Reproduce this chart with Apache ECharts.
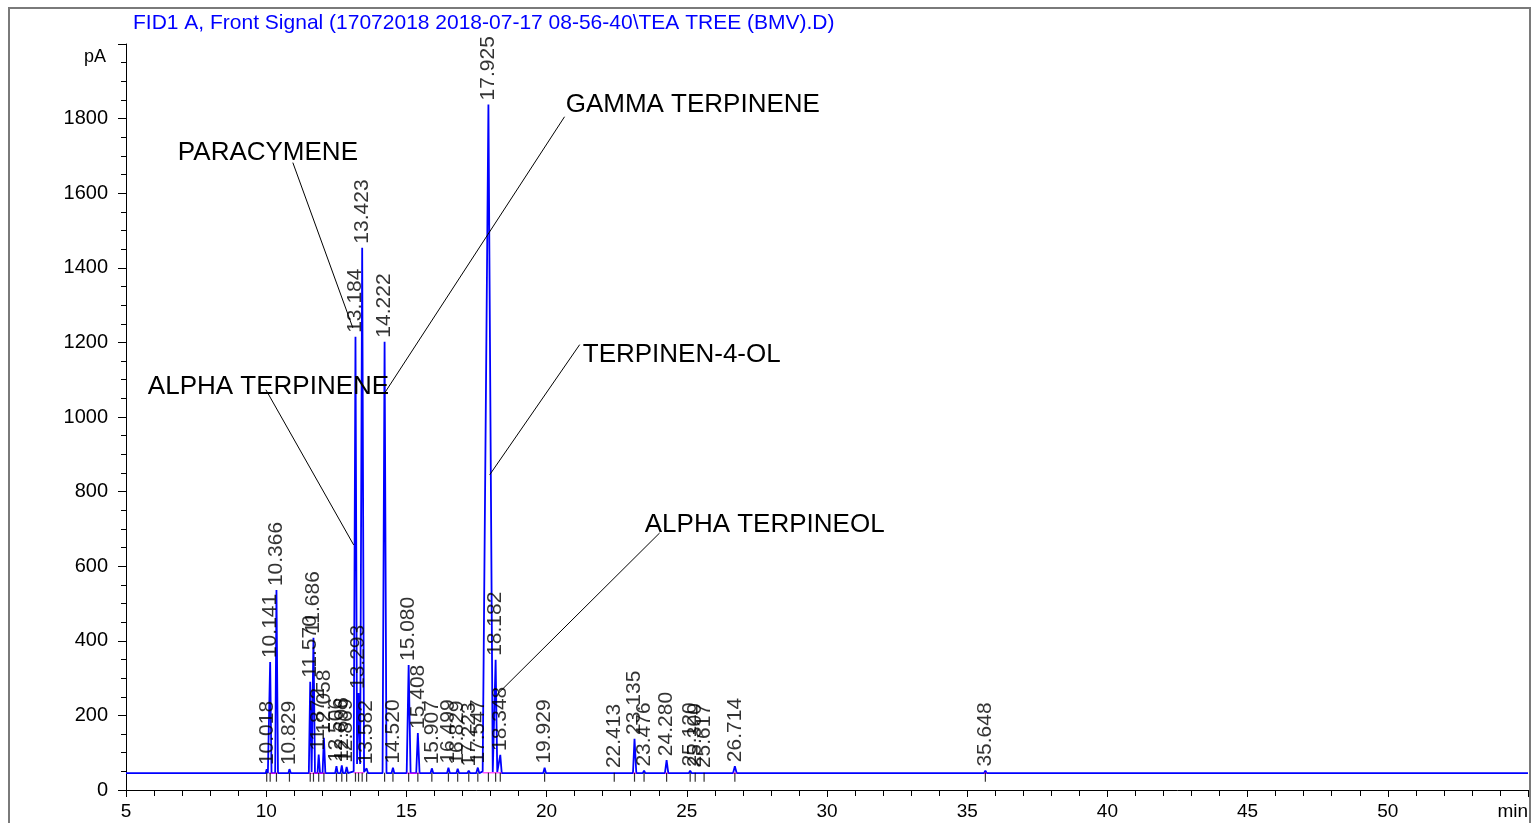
<!DOCTYPE html>
<html>
<head>
<meta charset="utf-8">
<script src="https://cdn.jsdelivr.net/npm/echarts@6/dist/echarts.min.js"></script>
<style>
html,body{margin:0;padding:0;background:#fff;}
#chart{width:1531px;height:823px;}
</style>
</head>
<body>
<div id="chart"></div>
<script>
// ---- DATA ----
const titleText = 'FID1 A, Front Signal (17072018 2018-07-17 08-56-40\\TEA TREE (BMV).D)';
const xTicks = [5, 10, 15, 20, 25, 30, 35, 40, 45, 50, 55];
const yTicks = [0, 200, 400, 600, 800, 1000, 1200, 1400, 1600, 1800, 2000];
const baselinePA = 45;

// chromatogram trace [time (min), signal (pA)]
const trace = [
  [5,45],[9.98,45],[10.018,56],[10.06,45],
  [10.10,45],[10.141,343],[10.19,45],
  [10.32,45],[10.366,536],[10.42,45],
  [10.79,45],[10.829,56],[10.88,45],
  [11.52,45],[11.570,290],[11.62,48],[11.686,408],[11.74,45],
  [11.83,45],[11.872,95],[11.92,45],
  [12.01,45],[12.058,140],[12.11,45],
  [12.46,45],[12.506,64],[12.55,45],
  [12.65,45],[12.696,66],[12.74,45],
  [12.82,45],[12.869,62],[12.92,45],
  [13.12,50],[13.184,1215],[13.24,70],[13.293,260],[13.35,70],[13.423,1454],[13.49,48],
  [13.54,45],[13.582,58],[13.63,45],
  [14.15,45],[14.222,1202],[14.29,45],
  [14.47,45],[14.520,60],[14.57,45],
  [15.01,45],[15.080,335],[15.15,45],
  [15.35,45],[15.408,153],[15.47,45],
  [15.86,45],[15.907,58],[15.96,45],
  [16.45,45],[16.499,60],[16.55,45],
  [16.78,45],[16.829,57],[16.88,45],
  [17.17,45],[17.223,52],[17.27,45],
  [17.49,45],[17.547,60],[17.60,45],
  [17.72,50],[17.925,1838],[18.08,48],
  [18.13,45],[18.182,349],[18.24,48],[18.348,94],[18.40,45],
  [19.88,45],[19.929,60],[19.98,45],
  [22.36,45],[22.413,48],[22.46,45],
  [23.08,45],[23.135,137],[23.20,45],
  [23.43,45],[23.476,52],[23.52,45],
  [24.22,45],[24.280,80],[24.34,45],
  [25.07,45],[25.120,52],[25.17,45],
  [25.25,45],[25.300,50],[25.35,45],
  [25.57,45],[25.617,48],[25.66,45],
  [26.65,45],[26.714,64],[26.78,45],
  [35.60,45],[35.648,52],[35.70,45],
  [36.25,45],[36.30,48],[36.35,45],
  [44.65,45],[44.70,47],[44.78,45],
  [55,45]
];

// labelled peaks
const peakLabels = ['10.018','10.141','10.366','10.829','11.570','11.686','11.872','12.058',
  '12.506','12.696','12.869','13.184','13.293','13.423','13.582','14.222','14.520','15.080',
  '15.408','15.907','16.499','16.829','17.223','17.547','17.925','18.182','18.348','19.929',
  '22.413','23.135','23.476','24.280','25.120','25.300','25.617','26.714','35.648'];
const peakHeights = [56,343,536,56,290,408,95,140,
  64,66,62,1215,260,1454,58,1202,60,335,
  153,58,60,57,52,60,1838,349,94,60,
  48,137,52,80,52,50,48,64,52];

// integration baseline segments (magenta)
const integSegments = [
  [[10.10,45],[10.42,45]],
  [[11.52,45],[12.11,45]],
  [[13.12,46],[13.49,46]],
  [[15.01,45],[15.47,45]],
  [[17.72,46],[18.40,46]],
  [[23.08,45],[23.20,45]],
  [[24.22,45],[24.34,45]],
  [[26.65,45],[26.78,45]],
  [[35.60,45],[35.70,45]]
];

// compound annotations: name, text anchor [t, pA], leader line from, to
const compoundNames = ['PARACYMENE','ALPHA TERPINENE','GAMMA TERPINENE','TERPINEN-4-OL','ALPHA TERPINEOL'];
const compoundTextPos = [[6.85,1709],[5.78,1081],[20.68,1837],[21.29,1167],[23.50,711]];
const compoundLineFrom = [[10.95,1682],[9.99,1073],[20.64,1805],[21.18,1194],[24.03,689]];
const compoundLineTo = [[13.09,1239],[13.12,657],[14.23,1065],[17.97,845],[18.22,255]];

// ---- BUILD ----
const FONT = 'Liberation Sans, Arial, Helvetica, sans-serif';
const chart = echarts.init(document.getElementById('chart'));

const integData = [];
integSegments.forEach(s => { integData.push(s[0], s[1], [null, null]); });

const peakPoints = peakLabels.map((l, i) => [parseFloat(l), peakHeights[i], l]);
const tickPoints = peakLabels.map(l => [parseFloat(l), baselinePA]);

const option = {
  animation: false,
  backgroundColor: '#fff',
  title: {
    text: titleText,
    left: 133, top: 13, padding: 0,
    textStyle: { color: '#0000ff', fontSize: 21, fontWeight: 'normal', fontFamily: FONT }
  },
  grid: { left: 126, right: 2, top: 44, bottom: 33, containLabel: false },
  xAxis: {
    type: 'value', min: xTicks[0], max: xTicks[xTicks.length - 1], interval: 5,
    name: 'min', nameLocation: 'end', nameGap: 0,
    nameTextStyle: { color: '#000', fontSize: 19, fontFamily: FONT, align: 'right', verticalAlign: 'top', padding: [12, 0, 0, 0] },
    axisLine: { lineStyle: { color: '#000', width: 1 } },
    axisTick: { show: true, length: 7, lineStyle: { color: '#000' } },
    minorTick: { show: true, splitNumber: 5, length: 6, lineStyle: { color: '#000' } },
    axisLabel: {
      color: '#000', fontSize: 19, fontFamily: FONT, margin: 12,
      formatter: v => (xTicks.indexOf(v) >= 0 && v !== 55) ? String(v) : ''
    },
    splitLine: { show: false }
  },
  yAxis: {
    type: 'value', min: yTicks[0], max: yTicks[yTicks.length - 1], interval: 200,
    name: 'pA', nameLocation: 'end', nameGap: -13,
    nameTextStyle: { color: '#000', fontSize: 18, fontFamily: FONT, align: 'right', verticalAlign: 'middle', padding: [0, 20, 0, 0] },
    axisLine: { show: true, lineStyle: { color: '#000', width: 1 } },
    axisTick: { show: true, length: 8, lineStyle: { color: '#000' } },
    minorTick: { show: true, splitNumber: 4, length: 5, lineStyle: { color: '#000' } },
    axisLabel: {
      color: '#000', fontSize: 20, fontFamily: FONT, margin: 18,
      formatter: v => (v === 2000 ? '' : String(v))
    },
    splitLine: { show: false }
  },
  graphic: [{
    type: 'rect', silent: true, z: 100,
    shape: { x: 9, y: 8, width: 1521, height: 840 },
    style: { fill: 'none', stroke: '#7a7a7a', lineWidth: 2 }
  }],
  series: [
    {
      name: 'signal', type: 'line', data: trace, showSymbol: false, symbol: 'none',
      lineStyle: { color: '#0000ff', width: 1.8 }, z: 3, silent: true,
      markLine: {
        silent: true, symbol: ['none', 'none'], animation: false,
        lineStyle: { color: '#000', width: 1, type: 'solid' },
        label: { show: false },
        data: compoundLineFrom.map((f, i) => [{ coord: f }, { coord: compoundLineTo[i] }])
      },
      markPoint: {
        silent: true, symbol: 'circle', symbolSize: 0, animation: false,
        label: { show: true, position: 'right', distance: 0, color: '#000', fontSize: 26, fontFamily: FONT,
          formatter: p => p.name },
        data: compoundNames.map((n, i) => ({ name: n, coord: compoundTextPos[i] }))
      }
    },
    {
      name: 'integration', type: 'line', data: integData, connectNulls: false,
      showSymbol: false, symbol: 'none', silent: true,
      lineStyle: { color: '#ff00ff', width: 1 }, z: 4
    },
    {
      name: 'peakTicks', type: 'scatter', data: tickPoints, silent: true,
      symbol: 'rect', symbolSize: [1.2, 9], symbolOffset: [0, 4],
      itemStyle: { color: '#000' }, z: 5
    },
    {
      name: 'peakLabels', type: 'scatter', data: peakPoints, silent: true,
      symbolSize: 0, z: 6,
      label: {
        show: true, position: 'top', distance: 4, rotate: 90,
        align: 'left', verticalAlign: 'middle',
        color: '#000', fontSize: 21, fontFamily: FONT,
        formatter: p => p.data[2]
      },
      labelLayout: { hideOverlap: false }
    }
  ]
};
chart.setOption(option);
</script>
</body>
</html>
